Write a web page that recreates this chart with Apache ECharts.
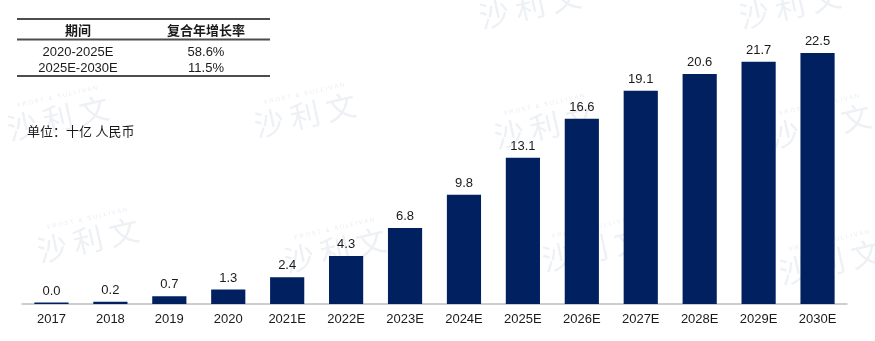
<!DOCTYPE html>
<html>
<head>
<meta charset="utf-8">
<title>市场规模</title>
<script src="https://cdn.jsdelivr.net/npm/echarts@6/dist/echarts.min.js"></script>
<style>
  html, body { margin: 0; padding: 0; background: #ffffff; }
  #chart { width: 875px; height: 341px; }
</style>
</head>
<body>
<div id="chart"></div>
<script>
// Market size by year, 十亿人民币
const years = ['2017', '2018', '2019', '2020', '2021E', '2022E', '2023E', '2024E',
               '2025E', '2026E', '2027E', '2028E', '2029E', '2030E'];
const marketSize = [0.0, 0.2, 0.7, 1.3, 2.4, 4.3, 6.8, 9.8, 13.1, 16.6, 19.1, 20.6, 21.7, 22.5];

// CAGR summary table
const tableHeader = ['期间', '复合年增长率'];
const cagrPeriods = ['2020-2025E', '2025E-2030E'];
const cagrRates = ['58.6%', '11.5%'];

const unitText = '单位：十亿 人民币';
const watermarkText = '沙 利 文';
const watermarkSub = 'F R O S T   &   S U L L I V A N';

// layout
const FONT = '"Liberation Sans", Arial, "Noto Sans CJK SC", sans-serif';
const TEXT_COLOR = '#1a1a1a';
const BAR_COLOR = '#002060';
const tableLeft = 17, tableRight = 270;
const colCenters = [78, 206];
const tableLines = [19, 39.5, 76];
const headerY = 31;
const rowY = [52, 68];
const watermarkSpots = [
  [58, 118], [305, 115], [545, 126], [820, 126],
  [530, 6], [790, 6],
  [88, 240], [335, 250], [593, 249], [830, 262]
];

const chart = echarts.init(document.getElementById('chart'), null, { renderer: 'canvas' });

const graphics = [];

// table rules
tableLines.forEach(function (y) {
  graphics.push({
    type: 'line',
    shape: { x1: tableLeft, y1: y, x2: tableRight, y2: y },
    style: { stroke: '#4d4d4d', lineWidth: 1.8 },
    z: 10
  });
});
// table header
tableHeader.forEach(function (t, i) {
  graphics.push({
    type: 'text', x: colCenters[i], y: headerY,
    style: { text: t, font: 'bold 13px ' + FONT, fill: TEXT_COLOR, align: 'center', verticalAlign: 'middle' },
    z: 10
  });
});
// table rows
cagrPeriods.forEach(function (p, r) {
  graphics.push({
    type: 'text', x: colCenters[0], y: rowY[r],
    style: { text: p, font: '13px ' + FONT, fill: TEXT_COLOR, align: 'center', verticalAlign: 'middle' },
    z: 10
  });
  graphics.push({
    type: 'text', x: colCenters[1], y: rowY[r],
    style: { text: cagrRates[r], font: '13px ' + FONT, fill: TEXT_COLOR, align: 'center', verticalAlign: 'middle' },
    z: 10
  });
});
// unit note
graphics.push({
  type: 'text', x: 27, y: 132,
  style: { text: unitText, font: '13px ' + FONT, fill: TEXT_COLOR, align: 'left', verticalAlign: 'middle' },
  z: 10
});
// faint brand watermarks
watermarkSpots.forEach(function (pt) {
  graphics.push({
    type: 'group', x: pt[0], y: pt[1], rotation: 0.22, z: 100, silent: true,
    children: [
      {
        type: 'text', x: 0, y: 0,
        style: {
          text: watermarkText, font: '30px "Noto Sans CJK SC", sans-serif',
          fill: 'rgba(200,208,222,0.32)', align: 'center', verticalAlign: 'middle'
        }
      },
      {
        type: 'text', x: 4, y: -21,
        style: {
          text: watermarkSub, font: '6px ' + FONT,
          fill: 'rgba(200,208,222,0.4)', align: 'center', verticalAlign: 'middle'
        }
      }
    ]
  });
});

chart.setOption({
  animation: false,
  backgroundColor: '#ffffff',
  grid: { left: 22, right: 28, top: 25, bottom: 37, containLabel: false },
  xAxis: {
    type: 'category',
    data: years,
    axisLine: { lineStyle: { color: '#bfbfbf', width: 1.5 } },
    axisTick: { show: false },
    axisLabel: { color: TEXT_COLOR, fontSize: 13, fontFamily: FONT, margin: 9 }
  },
  yAxis: {
    type: 'value', min: 0, max: 25,
    show: false,
    splitLine: { show: false }
  },
  series: [{
    type: 'bar',
    data: marketSize,
    barWidth: '58%',
    barMinHeight: 1.5,
    itemStyle: { color: BAR_COLOR },
    label: {
      show: true, position: 'top', distance: 5,
      color: TEXT_COLOR, fontSize: 13, fontFamily: FONT,
      formatter: function (p) { return p.value.toFixed(1); }
    }
  }],
  graphic: graphics
});
</script>
</body>
</html>
